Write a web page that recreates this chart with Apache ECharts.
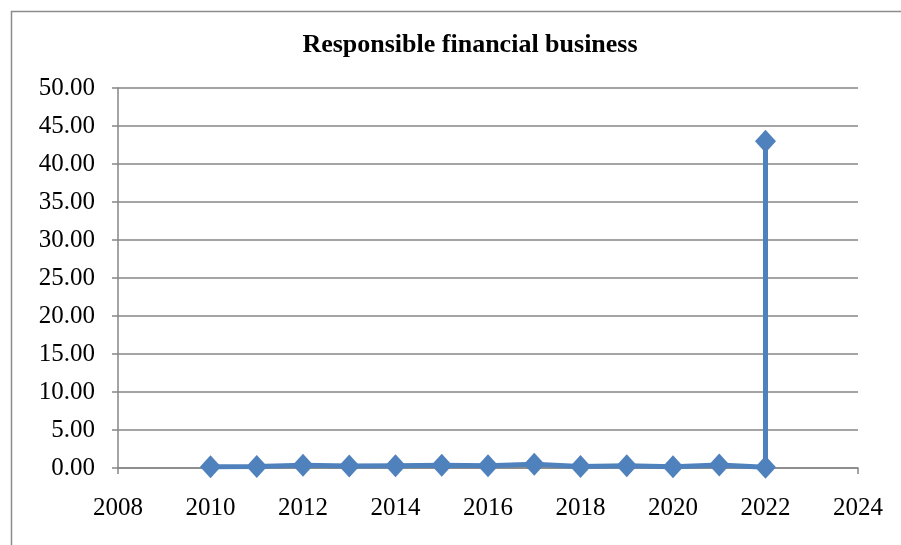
<!DOCTYPE html>
<html><head><meta charset="utf-8">
<script src="https://cdn.jsdelivr.net/npm/echarts@6/dist/echarts.min.js"></script>
<style>html,body{margin:0;padding:0;background:#fff}#c{width:901px;height:545px}</style>
</head><body><div id="c"></div>
<script>
var years = [2010, 2011, 2012, 2013, 2014, 2015, 2016, 2017, 2018, 2019, 2020, 2021, 2022, 2022];
var values = [0.15, 0.2, 0.35, 0.25, 0.3, 0.35, 0.3, 0.5, 0.2, 0.3, 0.15, 0.4, 0.1, 43.0];
var titleText = 'Responsible financial business';

var chart = echarts.init(document.getElementById('c'));
var font = '"Liberation Serif", "Times New Roman", serif';
chart.setOption({
  animation: false,
  graphic: [
    {type: 'rect', left: 9, top: 9, shape: {width: 905, height: 600}, style: {fill: 'none', stroke: '#8c8c8c', lineWidth: 1.5}, z: -1},
    {type: 'text', x: 470, y: 32, style: {text: titleText, align: 'center', verticalAlign: 'top', fontFamily: font, fontSize: 26, fontWeight: 'bold', fill: '#000'}}
  ],
  grid: {left: 118, right: 43, top: 88, bottom: 77},
  xAxis: {type: 'value', min: 2008, max: 2024, interval: 2,
    axisLine: {lineStyle: {color: '#868686', width: 1.5}},
    axisTick: {show: true, length: 6, lineStyle: {color: '#868686', width: 1.5}},
    splitLine: {show: false},
    axisLabel: {fontFamily: font, fontSize: 25, color: '#000', margin: 28, formatter: function(v){return String(v);}}},
  yAxis: {type: 'value', min: 0, max: 50, interval: 5,
    axisLine: {show: true, lineStyle: {color: '#868686', width: 1.5}},
    axisTick: {show: true, length: 6, lineStyle: {color: '#868686', width: 1.5}},
    splitLine: {lineStyle: {color: '#868686', width: 1.5}},
    axisLabel: {fontFamily: font, fontSize: 25, color: '#000', margin: 23, formatter: function(v){return v.toFixed(2);}}},
  series: [{type: 'line', data: years.map(function(y, i){return [y, values[i]];}),
    symbol: 'diamond', symbolSize: [21, 23], showAllSymbol: true,
    lineStyle: {color: '#4F81BD', width: 5},
    itemStyle: {color: '#4F81BD'}}]
});
</script></body></html>
